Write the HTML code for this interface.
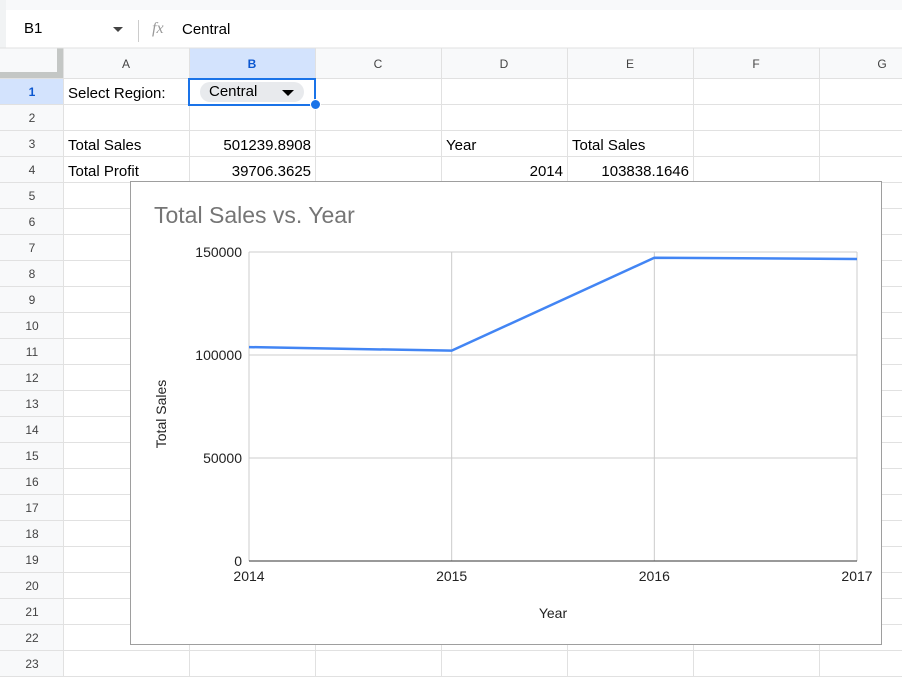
<!DOCTYPE html>
<html><head><meta charset="utf-8"><style>
body{margin:0;width:902px;height:677px;overflow:hidden;background:#fff;font-family:"Liberation Sans",Arial,sans-serif;position:relative}
.abs{position:absolute}
.cell{position:absolute;font-size:15px;color:#000;line-height:26px;white-space:nowrap}
</style></head><body>
<div class="abs" style="left:0;top:0;width:902px;height:10px;background:#f8f9fa"></div>
<div class="abs" style="left:0;top:0;width:6px;height:48px;background:#f1f3f4"></div>
<div class="abs" style="left:24px;top:20px;font-size:15px">B1</div>
<div class="abs" style="left:113px;top:27px;width:0;height:0;border-left:5px solid transparent;border-right:5px solid transparent;border-top:5px solid #444"></div>
<div class="abs" style="left:138px;top:20px;width:1px;height:22px;background:#ccc"></div>
<div class="abs" style="left:152px;top:20px;font-size:16px;font-style:italic;color:#999;font-family:'Liberation Serif',serif">fx</div>
<div class="abs" style="left:182px;top:21px;font-size:15px">Central</div>
<svg class="abs" style="left:0;top:0" width="902" height="677" id="grid"></svg>
<div class="cell" style="left:68px;top:81px">Select Region:</div>
<div class="abs" style="left:200px;top:82px;width:104px;height:20px;border-radius:10px;background:#e8eaed;font-size:15px;line-height:20px"><span style="margin-left:9px">Central</span><span style="position:absolute;right:10px;top:8px;border-left:6px solid transparent;border-right:6px solid transparent;border-top:6px solid #000"></span></div>
<div class="abs" style="left:188px;top:78px;width:124px;height:24px;border:2px solid #1a73e8"></div>
<div class="abs" style="left:310px;top:99px;width:9px;height:9px;border-radius:50%;background:#1a73e8;border:1px solid #fff"></div>
<div class="cell" style="left:68px;top:133px">Total Sales</div>
<div class="cell" style="left:189px;top:133px;width:122px;text-align:right">501239.8908</div>
<div class="cell" style="left:446px;top:133px">Year</div>
<div class="cell" style="left:572px;top:133px">Total Sales</div>
<div class="cell" style="left:68px;top:159px">Total Profit</div>
<div class="cell" style="left:189px;top:159px;width:122px;text-align:right">39706.3625</div>
<div class="cell" style="left:441px;top:159px;width:122px;text-align:right">2014</div>
<div class="cell" style="left:567px;top:159px;width:122px;text-align:right">103838.1646</div>
<svg class="abs" style="left:130px;top:181px" width="752" height="464" id="chart"></svg>
<script>
const years=["2014","2015","2016","2017"];
const sales=[103838.16,102100,147200,146600];
const yTicks=[0,50000,100000,150000];
const NS="http://www.w3.org/2000/svg";
function mk(p,t,a,txt){const e=document.createElementNS(NS,t);for(const k in a)e.setAttribute(k,a[k]);if(txt!==undefined)e.textContent=txt;p.appendChild(e);return e;}
const g=document.getElementById('grid');
const colX=[63,189,315,441,567,693,819,945];
const colL=["A","B","C","D","E","F","G"];
mk(g,'rect',{x:0,y:48,width:902,height:30,fill:'#f8f9fa'});
mk(g,'rect',{x:0,y:48,width:63,height:629,fill:'#f8f9fa'});
mk(g,'rect',{x:189,y:48,width:126,height:30,fill:'#d3e3fd'});
mk(g,'rect',{x:0,y:78,width:63,height:26,fill:'#d3e3fd'});
mk(g,'rect',{x:57,y:48,width:6,height:30,fill:'#c4c7c5'});
mk(g,'rect',{x:0,y:72,width:63,height:6,fill:'#c4c7c5'});
mk(g,'line',{x1:0,y1:48,x2:902,y2:48,stroke:'#e1e1e1'});
for(let i=0;i<colX.length;i++){
  mk(g,'line',{x1:colX[i]+.5,y1:48,x2:colX[i]+.5,y2:677,stroke:'#e1e1e1'});
  if(i<colL.length){const t=mk(g,'text',{x:(colX[i]+colX[i+1])/2,y:68,'text-anchor':'middle','font-size':12,fill:i==1?'#0b57d0':'#444','font-weight':i==1?'bold':'normal'},colL[i]);
  
  }
}
for(let r=0;r<=23;r++){
  const y=78+r*26;
  mk(g,'line',{x1:0,y1:y+.5,x2:902,y2:y+.5,stroke:'#e1e1e1'});
  if(r<23){const t=mk(g,'text',{x:32,y:y+18,'text-anchor':'middle','font-size':12,fill:r==0?'#0b57d0':'#444','font-weight':r==0?'bold':'normal'},String(r+1));
  
  }
}
const c=document.getElementById('chart');
mk(c,'rect',{x:.5,y:.5,width:751,height:463,fill:'#fff',stroke:'#9e9e9e'});
const t=mk(c,'text',{x:24,y:42,'font-size':23,fill:'#757575'},'Total Sales vs. Year');


const L=119,R=727,T=71,B=380;
const xs=i=>L+(R-L)*i/(years.length-1);
const ys=v=>B-(B-T)*v/150000;
yTicks.forEach(v=>{
  mk(c,'line',{x1:L,y1:ys(v),x2:R,y2:ys(v),stroke:v==0?'#333':'#ccc'});
  const e=mk(c,'text',{x:L-7,y:ys(v)+5,'text-anchor':'end','font-size':14,fill:'#222'},String(v));
  
  
});
years.forEach((y,i)=>{
  mk(c,'line',{x1:xs(i),y1:T,x2:xs(i),y2:B,stroke:'#ccc'});
  const e=mk(c,'text',{x:xs(i),y:B+20,'text-anchor':'middle','font-size':14,fill:'#222'},y);
  
  
});
mk(c,'line',{x1:L,y1:B,x2:R,y2:B,stroke:'#333'});
const ln=mk(c,'polyline',{points:sales.map((v,i)=>xs(i)+','+ys(v)).join(' '),fill:'none',stroke:'#4285f4','stroke-width':2.5});


const xt=mk(c,'text',{x:423,y:437,'text-anchor':'middle','font-size':14,fill:'#222'},'Year');


const yt=mk(c,'text',{x:0,y:0,'text-anchor':'middle','font-size':14,fill:'#222',transform:'translate(36,233) rotate(-90)'},'Total Sales');


</script>
</body></html>
